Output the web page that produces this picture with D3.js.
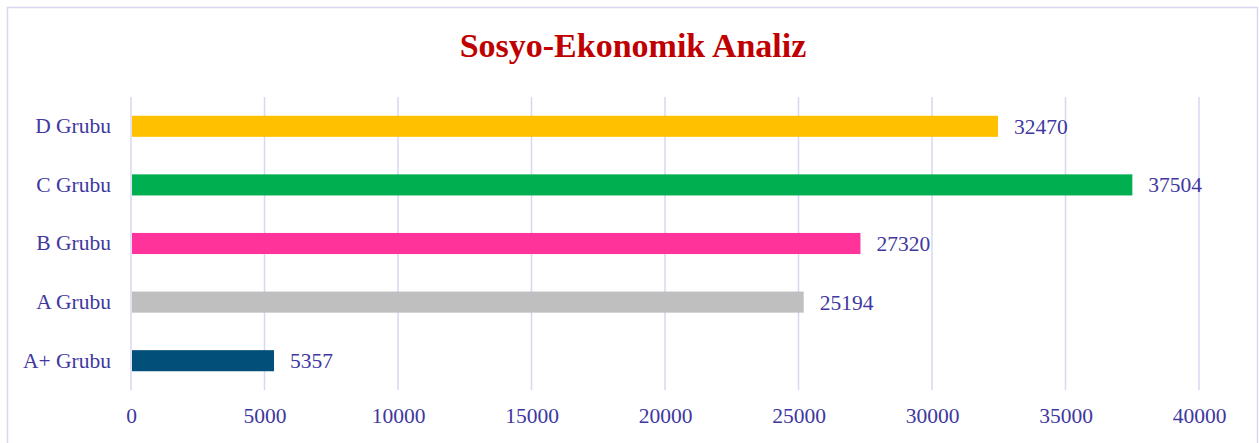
<!DOCTYPE html>
<html>
<head>
<meta charset="utf-8">
<script src="https://cdn.jsdelivr.net/npm/d3@7"></script>
<style>
  html, body { margin: 0; padding: 0; background: #fff; }
  svg { display: block; }
</style>
</head>
<body>
<div id="chart"></div>
<script>
// veriler
const groups = ['D Grubu', 'C Grubu', 'B Grubu', 'A Grubu', 'A+ Grubu'];
const values = [32470, 37504, 27320, 25194, 5357];
const barColors = ['#ffc000', '#00b050', '#ff3399', '#bfbfbf', '#02507a'];
const xTicks = [0, 5000, 10000, 15000, 20000, 25000, 30000, 35000, 40000];
const title = 'Sosyo-Ekonomik Analiz';

const width = 1259, height = 443;
const margin = { top: 97, right: 60, bottom: 53, left: 131 };
const textColor = '#4038a0';
const font = 'Liberation Serif, serif';
const fontSize = '21.5px';

const svg = d3.select('#chart').append('svg')
  .attr('width', width).attr('height', height);

// 外框
svg.append('rect')
  .attr('x', 7.5).attr('y', 7.5)
  .attr('width', width - 9).attr('height', height)
  .attr('fill', '#fff')
  .attr('stroke', '#d9d6f2').attr('stroke-width', 1.5);

const x = d3.scaleLinear().domain([0, 40000]).range([margin.left, width - margin.right]);
const y = d3.scaleBand().domain(groups)
  .range([margin.top, height - margin.bottom])
  .paddingInner(0.64).paddingOuter(0.32);

// grid lines
svg.append('g').selectAll('line')
  .data(xTicks).enter()
  .append('line')
  .attr('x1', d => x(d)).attr('x2', d => x(d))
  .attr('y1', margin.top).attr('y2', height - margin.bottom)
  .attr('stroke', '#d9d6f2').attr('stroke-width', 1.5);

// x axis labels
const xAxis = d3.axisBottom(x).tickValues(xTicks).tickFormat(d3.format('d'))
  .tickSize(0).tickPadding(18);
const gx = svg.append('g')
  .attr('transform', 'translate(0,' + (height - margin.bottom) + ')')
  .call(xAxis);
gx.select('.domain').remove();
gx.selectAll('text')
  .attr('fill', textColor)
  .style('font-family', font)
  .style('font-size', fontSize);

// y axis labels
const yAxis = d3.axisLeft(y).tickSize(0).tickPadding(20);
const gy = svg.append('g')
  .attr('transform', 'translate(' + margin.left + ',0)')
  .call(yAxis);
gy.select('.domain').remove();
gy.selectAll('text')
  .attr('fill', textColor)
  .style('font-family', font)
  .style('font-size', fontSize);

// bars
svg.append('g').selectAll('rect')
  .data(values).enter()
  .append('rect')
  .attr('x', x(0) + 1)
  .attr('y', (d, i) => y(groups[i]))
  .attr('width', d => x(d) - x(0) - 1)
  .attr('height', y.bandwidth())
  .attr('fill', (d, i) => barColors[i]);

// value labels
svg.append('g').selectAll('text')
  .data(values).enter()
  .append('text')
  .attr('x', d => x(d) + 16)
  .attr('y', (d, i) => y(groups[i]) + y.bandwidth() / 2)
  .attr('dy', '0.35em')
  .attr('fill', textColor)
  .style('font-family', font)
  .style('font-size', fontSize)
  .text(d => d);

// title
svg.append('text')
  .attr('x', 633).attr('y', 57)
  .attr('text-anchor', 'middle')
  .attr('fill', '#c00000')
  .style('font-family', font)
  .style('font-weight', 'bold')
  .style('font-size', '34px')
  .text(title);
</script>
</body>
</html>
